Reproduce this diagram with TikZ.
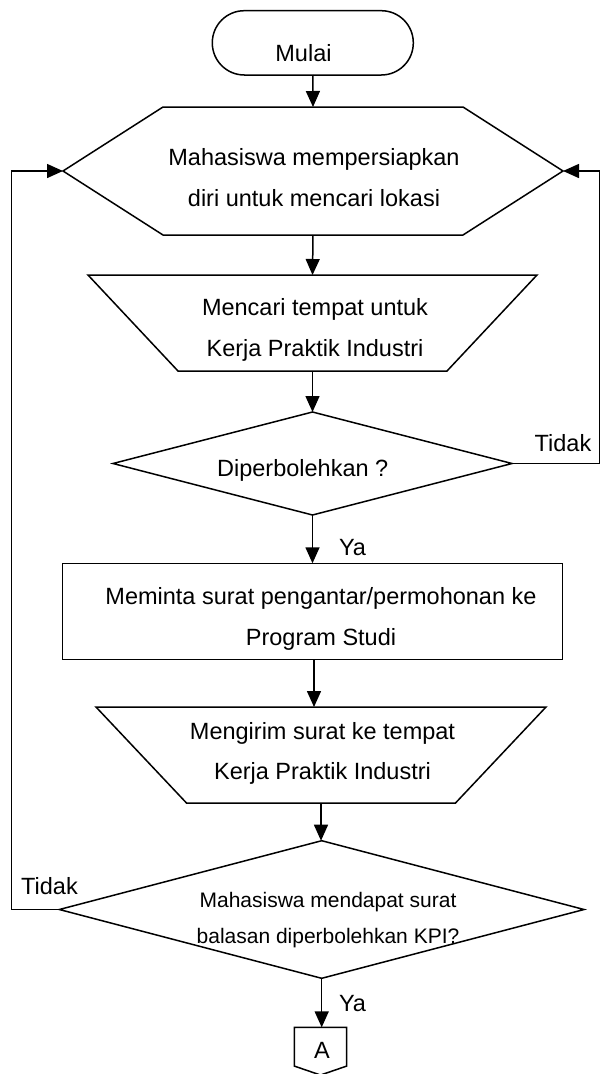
\documentclass[tikz,border=0pt]{standalone}
\usepackage{fontspec}
\setmainfont{Liberation Sans}
\usetikzlibrary{arrows.meta}

\tikzset{
	kotak/.style={draw=none, rectangle, inner sep=0pt, outer sep=0pt},
	teks/.style={inner sep=0pt, align=center, font=\fontsize{23.5}{40.7}\selectfont},
	teks kecil/.style={teks, font=\fontsize{21}{36.7}\selectfont},
	garis/.style={line width=1.5pt},
	alir/.style={garis, -{Triangle[length=16pt,width=14pt]}},
}

\begin{document}
\begin{tikzpicture}[x=1pt, y=-1pt]
	\useasboundingbox (0,0) rectangle (601,1074);

	% Mulai
		\node[kotak, minimum width=201, minimum height=64.3] (mulai) at (312.8,42.85) {};
		\draw[garis, rounded corners=32] (mulai.south west) rectangle (mulai.north east);
		\node[teks] (t-mulai) at (303.5,53) {Mulai};

	% Persiapan
		\node[kotak, minimum width=500, minimum height=128] (siap) at (313,171) {};
		\draw[garis] (siap.west) -- ([xshift=100]siap.north west) -- ([xshift=-100]siap.north east)
			-- (siap.east) -- ([xshift=-100]siap.south east) -- ([xshift=100]siap.south west) -- cycle;
		\node[teks] (t-siap) at (314,177.5) {Mahasiswa mempersiapkan\\diri untuk mencari lokasi};

	% Mencari tempat
		\node[kotak, minimum width=449, minimum height=96] (cari) at (312.5,323) {};
		\draw[garis] (cari.north west) -- (cari.north east) -- ([xshift=-90]cari.south east)
			-- ([xshift=90]cari.south west) -- cycle;
		\node[teks] (t-cari) at (315,330) {Mencari tempat untuk\\Kerja Praktik Industri};

	% Keputusan 1
		\node[kotak, minimum width=399, minimum height=103] (cek1) at (312.5,463.5) {};
		\draw[garis] (cek1.west) -- (cek1.north) -- (cek1.east) -- (cek1.south) -- cycle;
		\node[teks] (t-cek1) at (302.7,470) {Diperbolehkan ?};

	% Surat pengantar
		\node[kotak, minimum width=499.6, minimum height=96] (minta) at (312.5,611.3) {};
		\draw[garis] (minta.south west) rectangle (minta.north east);
		\node[teks] (t-minta) at (321,619) {Meminta surat pengantar/permohonan ke\\Program Studi};

	% Mengirim surat
		\node[kotak, minimum width=450, minimum height=96] (kirim) at (321,755) {};
		\draw[garis] (kirim.north west) -- (kirim.north east) -- ([xshift=-90.5]kirim.south east)
			-- ([xshift=90.5]kirim.south west) -- cycle;
		\node[teks] (t-kirim) at (322.5,753.4) {Mengirim surat ke tempat\\Kerja Praktik Industri};

	% Keputusan 2
		\node[kotak, minimum width=524.7, minimum height=137.6] (cek2) at (321.7,909.5) {};
		\draw[garis] (cek2.west) -- (cek2.north) -- (cek2.east) -- (cek2.south) -- cycle;
		\node[teks kecil] (t-cek2) at (328,920) {Mahasiswa mendapat surat\\balasan diperbolehkan KPI?};

	% Konektor A
		\node[kotak, minimum width=52.4, minimum height=47.7] (konek) at (320.5,1051.2) {};
		\draw[garis] (konek.north west) -- (konek.north east) -- ([yshift=9]konek.south east)
			-- (konek.south) -- ([yshift=9]konek.south west) -- cycle;
		\node[teks] (t-konek) at (322,1050.7) {A};

	% Label
		\node[teks] (tidak1) at (563,442.7) {Tidak};
		\node[teks] (tidak2) at (49.5,886) {Tidak};
		\node[teks] (ya1) at (352.5,548) {Ya};
		\node[teks] (ya2) at (352.5,1003.5) {Ya};

	% Alur
		\coordinate (kanan) at (599.5,0);
		\coordinate (kiri) at (11.5,0);
		\draw[alir] (mulai.south) -- (siap.north);
		\draw[alir] (siap.south) -- (cari.north);
		\draw[alir] (cari.south) -- (cek1.north);
		\draw[alir] (cek1.south) -- (minta.north);
		\draw[alir] ([xshift=1.5]minta.south) -- ([xshift=1.5]minta.south |- kirim.north);
		\draw[alir] (kirim.south) -- (kirim.south |- cek2.north);
		\draw[alir] (cek2.south) -- (cek2.south |- konek.north);
		\draw[alir] (cek1.east) -- (cek1.east -| kanan) -- (siap.east -| kanan) -- (siap.east);
		\draw[alir] (cek2.west) -- (cek2.west -| kiri) -- (siap.west -| kiri) -- (siap.west);
\end{tikzpicture}
\end{document}
